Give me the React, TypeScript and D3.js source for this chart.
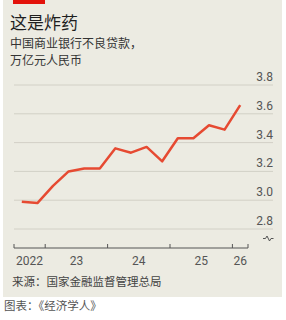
import React, { useEffect, useRef } from 'react';
import * as d3 from 'd3';

// Quarterly NPL balance, trillion yuan
const quarters = [
  '2022Q3', '2022Q4',
  '2023Q1', '2023Q2', '2023Q3', '2023Q4',
  '2024Q1', '2024Q2', '2024Q3', '2024Q4',
  '2025Q1', '2025Q2', '2025Q3', '2025Q4',
  '2026Q1',
];
const values = [2.99, 2.98, 3.1, 3.2, 3.22, 3.22, 3.36, 3.33, 3.37, 3.27, 3.43, 3.43, 3.52, 3.49, 3.66];
const yTicks = [2.8, 3.0, 3.2, 3.4, 3.6, 3.8];
const yearTicks = [2023, 2024, 2025, 2026];
const yearLabels = ['2022', '23', '24', '25', '26'];

const title = '这是炸药';
const subtitle = ['中国商业银行不良贷款，', '万亿元人民币'];
const source = '来源：国家金融监督管理总局';
const credit = '图表：《经济学人》';

const CJK = '"Noto Sans CJK SC", "Noto Sans", sans-serif';
const NUM = 'Roboto, "Noto Sans", sans-serif';

// quarter label -> fractional year at the middle of the quarter
const quarterPos = (q: string) => {
  const year = +q.slice(0, 4);
  const n = +q.slice(5);
  return year + (n - 1) / 4 + 1 / 8;
};

const App = () => {
  const ref = useRef<SVGSVGElement>(null);

  useEffect(() => {
    const width = 286;
    const height = 320;
    const svg = d3.select(ref.current);
    svg.selectAll('*').remove();
    svg.attr('width', width).attr('height', height);

    // card background
    svg.append('rect')
      .attr('x', 3).attr('y', 0)
      .attr('width', 279).attr('height', 297)
      .attr('fill', '#ecebe2');

    // red tag
    svg.append('rect')
      .attr('x', 13).attr('y', 0)
      .attr('width', 32).attr('height', 4)
      .attr('fill', '#e3120b');

    svg.append('text')
      .attr('x', 10).attr('y', 28.5)
      .attr('font-family', CJK).attr('font-size', 17)
      .attr('fill', '#1f1f1f')
      .text(title);

    subtitle.forEach((line, i) => {
      svg.append('text')
        .attr('x', 10).attr('y', 47.5 + i * 17.5)
        .attr('font-family', CJK).attr('font-size', 12)
        .attr('fill', '#333')
        .text(line);
    });

    const start = 2022.5;
    const end = 2026.25;
    const x = d3.scaleLinear().domain([start, end]).range([14, 248]);
    const y = d3.scaleLinear().domain([2.8, 3.8]).range([229, 85]);
    const axisY = 248;

    // gridlines + y labels
    const grid = svg.append('g');
    grid.selectAll('line')
      .data(yTicks)
      .enter().append('line')
      .attr('x1', 14).attr('x2', 273)
      .attr('y1', d => y(d)).attr('y2', d => y(d))
      .attr('stroke', '#d2d0c6')
      .attr('stroke-width', 1);

    grid.selectAll('text')
      .data(yTicks)
      .enter().append('text')
      .attr('x', 273)
      .attr('y', d => y(d) - 4)
      .attr('text-anchor', 'end')
      .attr('font-family', NUM).attr('font-size', 12)
      .attr('fill', '#555')
      .text(d => d.toFixed(1));

    // axis break mark
    svg.append('path')
      .attr('d', 'M263,238.5 L265.5,238.5 L267,236 L269.5,241 L271,238.5 L273.5,238.5')
      .attr('fill', 'none')
      .attr('stroke', '#555')
      .attr('stroke-width', 1);

    // x axis
    svg.append('line')
      .attr('x1', x(start)).attr('x2', x(end))
      .attr('y1', axisY).attr('y2', axisY)
      .attr('stroke', '#555').attr('stroke-width', 1);

    svg.selectAll('.xtick')
      .data([start, ...yearTicks, end])
      .enter().append('line')
      .attr('class', 'xtick')
      .attr('x1', d => x(d)).attr('x2', d => x(d))
      .attr('y1', axisY).attr('y2', axisY - 4)
      .attr('stroke', '#555').attr('stroke-width', 1);

    const bounds = [start, ...yearTicks, end];
    svg.selectAll('.xlabel')
      .data(yearLabels)
      .enter().append('text')
      .attr('class', 'xlabel')
      .attr('x', (_, i) => (x(bounds[i]) + x(bounds[i + 1])) / 2)
      .attr('y', 265)
      .attr('text-anchor', 'middle')
      .attr('font-family', NUM).attr('font-size', 12)
      .attr('fill', '#555')
      .text(d => d);

    // data line
    const line = d3.line<number>()
      .x((_, i) => x(quarterPos(quarters[i])))
      .y(d => y(d));

    svg.append('path')
      .datum(values)
      .attr('d', line)
      .attr('fill', 'none')
      .attr('stroke', '#e64a32')
      .attr('stroke-width', 2.5)
      .attr('stroke-linejoin', 'round');

    svg.append('text')
      .attr('x', 12).attr('y', 286)
      .attr('font-family', CJK).attr('font-size', 11.5)
      .attr('fill', '#444')
      .text(source);

    svg.append('text')
      .attr('x', 4).attr('y', 310)
      .attr('font-family', CJK).attr('font-size', 11.5)
      .attr('fill', '#555')
      .text(credit);
  }, []);

  return (
    <svg ref={ref} style={{ position: 'absolute', left: 0, top: 0, display: 'block' }} />
  );
};

export default App;
